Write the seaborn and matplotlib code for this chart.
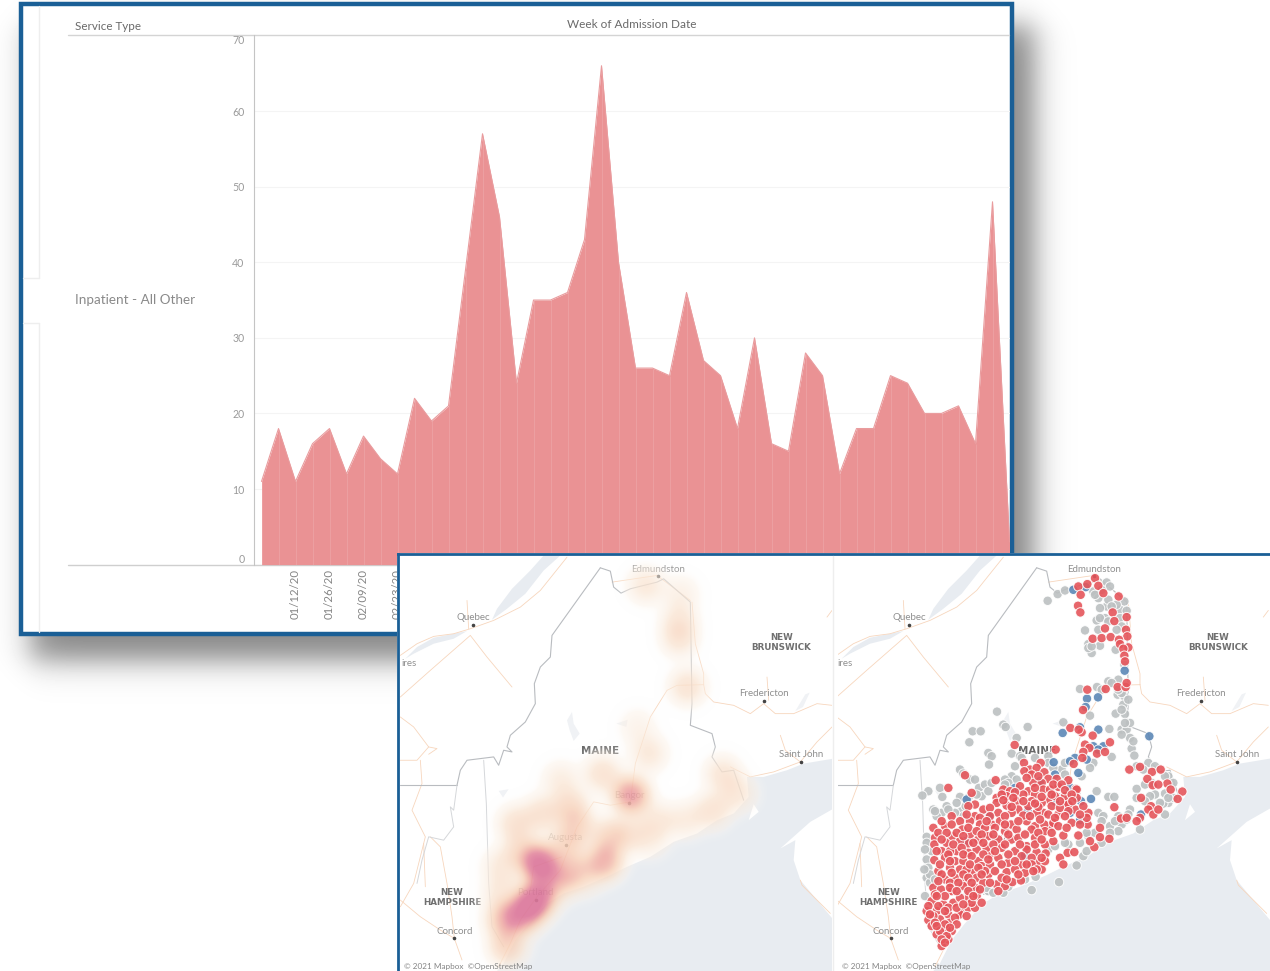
import numpy as np
import pandas as pd
import matplotlib
matplotlib.use('Agg')
import matplotlib.pyplot as plt
import matplotlib.dates as mdates
from matplotlib.colors import LinearSegmentedColormap
from matplotlib.patches import Rectangle, Polygon
import seaborn as sns

W, H = 1270, 971

# weekly admissions, first week starts 12/29/19
admissions = [11, 18, 11, 16, 18, 12, 17, 14, 12, 22, 19, 21, 39, 57, 46, 24, 35, 35, 36, 43, 66, 40, 26, 26, 25,
              36, 27, 25, 18, 30, 16, 15, 28, 25, 12, 18, 18, 25, 24, 20, 20, 21, 16, 48, 3]
y_ticks = [0, 10, 20, 30, 40, 50, 60, 70]

# map geometry, in units of 1/3 reference pixel
coast = [(300, 1263), (320, 1240), (355, 1170), (395, 1120), (450, 1060), (500, 1030), (560, 1010), (640, 975),
         (690, 950), (760, 920), (830, 875), (900, 850), (960, 810), (1010, 790), (1055, 740), (1050, 680),
         (1100, 680), (1170, 660), (1220, 640), (1310, 625), (1310, 1263)]
nova_scotia = [(1310, 775), (1240, 815), (1150, 895), (1195, 870), (1190, 930), (1210, 990), (1260, 1050),
               (1310, 1110)]
river_north = [(490, 15), (440, 60), (385, 130), (330, 175), (285, 208), (300, 175), (345, 115), (400, 60), (440, 15)]
river_south = [(25, 325), (60, 290), (110, 262), (210, 242), (170, 265), (110, 280), (50, 310)]
lakes = [[(510, 510), (525, 485), (530, 520), (548, 550), (530, 572), (518, 540)],
         [(1195, 482), (1225, 432), (1238, 427), (1218, 470)],
         [(658, 520), (692, 508), (688, 530)],
         [(305, 722), (335, 717), (318, 742)]]
islands = [[(1055, 810), (1070, 762), (1085, 785)]]
borders = [[(610, 52), (640, 62), (650, 110), (672, 128), (700, 115), (780, 95), (800, 85), (880, 155), (885, 460),
            (880, 525), (945, 550), (955, 590), (945, 620), (975, 665), (1010, 660), (1040, 750)],
           [(610, 52), (465, 255), (460, 320), (430, 350), (412, 400), (415, 460), (385, 515), (340, 555), (330, 590),
            (345, 605), (320, 600), (305, 645), (290, 620), (250, 625), (210, 630), (190, 660), (180, 705)],
           [(10, 705), (180, 705)]]
thin_borders = [[(260, 630), (268, 760), (275, 1000), (285, 1130), (320, 1190)],
                [(180, 705), (170, 780), (160, 770), (170, 830), (140, 870), (95, 860), (75, 930), (60, 1000)]]
roads = [[(10, 315), (60, 280), (110, 258), (170, 250), (220, 235), (290, 210), (370, 170), (430, 120), (510, 20)],
         [(10, 440), (100, 360), (220, 255), (270, 320), (345, 410)],
         [(210, 150), (215, 235)],
         [(305, 1250), (340, 1180), (370, 1110), (420, 1040), (490, 960), (540, 830), (590, 755), (640, 765),
          (700, 755), (715, 640), (760, 500), (810, 420), (840, 405), (920, 403)],
         [(920, 403), (925, 430), (950, 455), (1010, 465), (1060, 490), (1100, 460), (1135, 490), (1190, 490),
          (1260, 460), (1305, 465)],
         [(885, 155), (895, 280), (920, 370), (920, 403)],
         [(1110, 380), (1115, 450)],
         [(1000, 650), (1060, 680), (1130, 665), (1210, 635), (1260, 575), (1305, 530)],
         [(1150, 555), (1165, 600), (1210, 635)],
         [(10, 500), (50, 530), (95, 590), (60, 630), (10, 630)],
         [(70, 630), (75, 700), (45, 780), (85, 860), (50, 1000), (10, 1070)],
         [(95, 590), (120, 595), (95, 612)],
         [(100, 860), (130, 890), (150, 1000), (165, 1100), (172, 1165), (195, 1230)],
         [(10, 1050), (70, 1100), (130, 1140), (172, 1165)],
         [(80, 880), (85, 1010)],
         [(645, 95), (780, 75), (880, 150)],
         [(400, 1020), (410, 950), (495, 920)],
         [(1305, 180), (1290, 200)],
         [(1210, 990), (1215, 1005), (1260, 1050), (1300, 1090)]]
city_names = ['Quebec', 'Edmundston', 'Fredericton', 'Saint John', 'Bangor', 'Augusta', 'Portland', 'Concord']
city_x = [228, 783, 1102, 1212, 696, 506, 416, 172]
city_y = [224, 78, 453, 634, 757, 885, 1050, 1165]

# density hot spots: x, y, weight
hot_spots = [(745, 105, .55), (850, 130, .35), (845, 210, .5), (845, 265, .6), (870, 410, .7), (720, 530, .3),
             (755, 610, .55), (615, 670, .7), (490, 690, .45), (975, 670, .6), (1020, 730, .55), (945, 780, .65),
             (865, 810, .45), (780, 810, .5), (700, 850, .5), (760, 870, .35), (700, 735, 1.9), (520, 770, .8),
             (435, 790, .7), (355, 820, .7), (540, 830, .8), (425, 938, 2.3), (620, 935, 1.5), (640, 860, .9),
             (505, 885, .8), (370, 900, .7), (310, 950, .5), (440, 980, .7), (520, 960, .8), (480, 1000, .8),
             (415, 1050, 2.5), (375, 1095, 1.8), (320, 1110, 1.2), (330, 1190, 1.0), (560, 980, .5), (310, 1030, .5)]

# facility dots on the right map
red_dots = [(780, 85), (730, 110), (757, 103), (790, 108), (805, 130), (737, 135), (851, 140), (729, 168), (736, 188),
            (875, 202), (833, 188), (838, 214), (873, 240), (810, 236), (877, 260), (773, 267), (800, 265), (827, 262),
            (852, 270), (855, 283), (880, 293), (865, 297), (868, 318), (870, 335), (757, 420), (812, 418), (848, 412),
            (872, 412), (875, 400), (744, 481), (706, 535), (740, 548), (731, 540), (773, 558), (825, 578), (750, 585),
            (763, 595), (745, 607), (786, 612), (810, 607), (716, 643), (742, 625), (539, 586), (662, 600), (883, 660),
            (915, 652), (951, 667), (977, 660), (937, 688), (997, 702), (953, 707), (970, 705), (1007, 720), (1042, 726),
            (1028, 748), (918, 745), (838, 773), (948, 770), (940, 780), (955, 795), (970, 780), (915, 805), (905, 815),
            (858, 807), (875, 805), (390, 677), (482, 692), (340, 715), (675, 925), (698, 910), (718, 908), (685, 945),
            (778, 893), (765, 875), (795, 863), (823, 868), (730, 858), (685, 858), (758, 825), (795, 835), (760, 790),
            (755, 805), (720, 780), (722, 718), (695, 760), (670, 795), (710, 820), (650, 830),
            (567, 640), (617, 640), (585, 660), (605, 655), (568, 665), (628, 668), (590, 675), (640, 688), (665, 688),
            (595, 700), (555, 710), (620, 700), (700, 692), (505, 720), (525, 725), (580, 725), (625, 720), (670, 712),
            (645, 720), (725, 720), (485, 745), (515, 740), (565, 735), (600, 735), (640, 750), (690, 740), (660, 740),
            (545, 755), (590, 755), (620, 760), (700, 765), (725, 745), (410, 730), (420, 765), (445, 780), (485, 760),
            (515, 768), (550, 780), (580, 770), (625, 790), (650, 770), (675, 775), (420, 800), (435, 805), (490, 790),
            (530, 790), (605, 790), (640, 795), (350, 800), (375, 815), (405, 815), (435, 825), (470, 825), (495, 815),
            (528, 825), (575, 815), (600, 830), (628, 825), (655, 820), (330, 830), (295, 835), (382, 840), (405, 855),
            (450, 835), (480, 835), (510, 845), (545, 840), (590, 840), (630, 845), (300, 865), (335, 880), (400, 882),
            (430, 870), (460, 860), (490, 870), (530, 870), (575, 890), (630, 885), (655, 875), (352, 860), (375, 875),
            (550, 865), (600, 865), (320, 905), (365, 905), (400, 910), (425, 900), (465, 915), (500, 895), (540, 905),
            (575, 900), (605, 908), (632, 912), (298, 932), (330, 925), (360, 935), (385, 935), (430, 935), (490, 925),
            (520, 940), (560, 945), (610, 940), (590, 925), (455, 895), (310, 965), (345, 955), (375, 960), (410, 965),
            (440, 950), (465, 945), (515, 968), (540, 960), (570, 970), (590, 945), (620, 960), (630, 935), (330, 990),
            (360, 985), (390, 995), (425, 985), (460, 975), (485, 1005), (510, 1010), (532, 998), (558, 993), (295, 1015),
            (318, 1020), (350, 1025), (385, 1010), (420, 1015), (490, 1025), (290, 1055), (325, 1065), (355, 1060),
            (400, 1045), (375, 1045), (425, 1040), (275, 1085), (305, 1085), (340, 1095), (378, 1090), (400, 1075),
            (420, 1075), (280, 1112), (315, 1110), (345, 1120), (375, 1095), (290, 1130), (350, 1145), (320, 1190),
            (340, 1170), (305, 1155), (335, 1140), (298, 885), (345, 905), (445, 1000), (450, 965), (395, 960)]
red_dots_dense = [(575, 685), (610, 680), (655, 705), (680, 705), (540, 728), (600, 715), (650, 735), (690, 722),
                  (710, 735), (500, 735), (535, 745), (620, 742), (712, 755), (505, 752), (565, 755), (610, 772),
                  (675, 755), (745, 770), (400, 770), (465, 775), (530, 772), (600, 762), (700, 785), (735, 795),
                  (395, 795), (465, 800), (510, 800), (565, 798), (585, 800), (660, 805), (690, 800), (735, 825),
                  (320, 815), (350, 825), (400, 835), (425, 845), (455, 815), (510, 825), (550, 815), (615, 810),
                  (670, 830), (695, 835), (310, 850), (335, 850), (365, 850), (385, 860), (440, 855), (475, 855),
                  (520, 855), (570, 855), (610, 850), (650, 850), (320, 870), (355, 885), (380, 895), (415, 880),
                  (445, 880), (475, 885), (510, 885), (555, 885), (600, 885), (620, 870), (305, 905), (340, 915),
                  (385, 915), (410, 920), (445, 915), (480, 905), (520, 915), (560, 920), (620, 925), (315, 945),
                  (345, 935), (405, 945), (430, 955), (460, 930), (500, 945), (540, 935), (575, 945), (605, 960),
                  (320, 975), (350, 970), (385, 975), (400, 985), (440, 975), (480, 965), (500, 985), (550, 975),
                  (595, 965), (310, 995), (345, 1000), (370, 1000), (410, 1000), (435, 1020), (465, 1000), (515, 990),
                  (300, 1035), (330, 1040), (345, 1015), (365, 1025), (400, 1025), (410, 1060), (305, 1040),
                  (280, 1070), (310, 1070), (340, 1075), (365, 1075), (385, 1065), (295, 1100), (330, 1085),
                  (360, 1105), (395, 1100), (300, 1120), (330, 1125), (365, 1125), (315, 1145), (335, 1160),
                  (345, 1135), (305, 1130), (320, 1170), (330, 1180), (285, 1095), (440, 1060), (415, 1040)]
gray_dots = [(638, 153), (668, 133), (690, 122), (815, 98), (825, 110), (775, 125), (790, 145), (815, 170), (795, 175),
             (868, 155), (855, 180), (875, 183), (785, 212), (810, 205), (855, 205), (750, 242), (760, 283), (770, 310),
             (760, 295), (795, 288), (842, 300), (868, 345), (735, 418), (786, 412), (820, 395), (848, 435), (868, 440),
             (865, 465), (870, 493), (842, 492), (765, 498), (685, 518), (823, 538), (860, 540), (875, 540), (885, 565),
             (890, 597), (898, 618), (830, 622), (775, 640), (765, 655), (486, 486), (505, 525), (512, 532), (578, 532),
             (413, 545), (437, 545), (403, 578), (545, 565), (530, 612), (460, 610), (470, 620), (462, 645), (375, 660),
             (385, 672), (405, 690), (420, 690), (315, 715), (280, 725), (262, 738), (322, 742), (375, 742), (432, 715),
             (450, 705), (530, 680), (545, 690), (555, 620), (640, 620), (680, 660), (690, 675), (740, 680), (785, 725),
             (820, 742), (838, 742), (905, 718), (905, 745), (960, 735), (990, 732), (1000, 760), (985, 762), (950, 700),
             (930, 705), (990, 795), (885, 780), (880, 795), (860, 825), (850, 845), (915, 840), (825, 830), (790, 790),
             (805, 800), (725, 948), (672, 998), (590, 1022), (602, 982), (320, 790), (305, 800), (275, 862), (295, 780),
             (380, 785), (392, 770), (275, 930), (280, 955), (275, 985), (285, 1000), (270, 1040), (460, 1025), (440, 1020),
             (520, 1012), (745, 920), (755, 905), (800, 880), (700, 885), (690, 880), (275, 880), (290, 905), (270, 900),
             (285, 975), (300, 990), (268, 960), (300, 785), (335, 770), (365, 760), (385, 800), (360, 790), (440, 740),
             (460, 725), (470, 700), (510, 690), (520, 700), (540, 650), (560, 625), (600, 625), (640, 640), (655, 655),
             (690, 640), (800, 120), (780, 135), (845, 165), (820, 150), (795, 205), (830, 170), (860, 230), (845, 240),
             (790, 240), (820, 215), (770, 290), (850, 390), (830, 400), (800, 420), (860, 430), (850, 420), (880, 450),
             (860, 480), (885, 520), (870, 520), (860, 555), (895, 575), (940, 640), (925, 660), (905, 650), (960, 650),
             (1000, 680), (1015, 700), (990, 680), (1015, 745), (1000, 745), (975, 760), (945, 740), (930, 755), (875, 810),
             (850, 800), (840, 815), (455, 1015), (475, 1030), (505, 1030), (570, 990), (640, 900), (660, 890), (760, 860),
             (780, 850), (800, 815), (825, 850), (735, 880), (755, 850), (340, 780), (400, 745), (425, 735), (510, 705)]
blue_dots = [(715, 120), (752, 112), (869, 363), (756, 447), (789, 443), (752, 472), (683, 550), (790, 540), (735, 533),
             (943, 560), (775, 590), (805, 590), (790, 600), (720, 625), (705, 635), (755, 630), (656, 638), (730, 670),
             (660, 675), (615, 695), (703, 712), (540, 715), (768, 748), (738, 755), (660, 755), (395, 750), (578, 785),
             (462, 800), (735, 812), (918, 795), (390, 875), (570, 918), (705, 790)]

HEAT_COLORS = [(0, (1, 1, 1, 0)), (.05, (.99, .95, .91, .5)), (.2, (.98, .90, .83, .85)), (.4, (.97, .82, .73, .92)),
               (.6, (.94, .68, .65, .95)), (.8, (.89, .53, .62, .97)), (1, (.86, .47, .61, 1))]


def px_axes(fig, left, top, right, bottom, **kw):
    # axes placed by reference pixels
    return fig.add_axes([left / W, 1 - bottom / H, (right - left) / W, (bottom - top) / H], **kw)


def draw_background(ax):
    ax.set_xlim(0, W)
    ax.set_ylim(H, 0)
    ax.axis('off')
    xx, yy = np.meshgrid(np.arange(W), np.arange(H))
    soft = 18
    shade = (0.5 * (np.tanh((xx - 30) / soft) - np.tanh((xx - 1034) / soft))
             * 0.5 * (np.tanh((yy - 25) / soft) - np.tanh((yy - 660) / soft)))
    ax.imshow(1 - 0.47 * shade, cmap='gray', vmin=0, vmax=1, extent=(0, W, H, 0), aspect='auto', zorder=0)
    ax.add_patch(Rectangle((21, 4), 991, 630, fc='white', ec='#1a5f96', lw=3.2, zorder=1))
    ax.plot([39, 39], [6, 278], color='#eeeeee', lw=1, zorder=2)
    ax.plot([39, 39], [323, 632], color='#eeeeee', lw=1, zorder=2)
    ax.plot([23, 39], [278, 278], color='#eeeeee', lw=1, zorder=2)
    ax.plot([23, 39], [323, 323], color='#eeeeee', lw=1, zorder=2)
    ax.plot([68, 1009], [35, 35], color='#d4d4d4', lw=1, zorder=2)
    ax.plot([68, 1009], [565.5, 565.5], color='#cfcfcf', lw=1, zorder=2)
    ax.text(75, 26, 'Service Type', color='#6a6a6a', fontsize=8.4, va='center', zorder=3)
    ax.text(632, 25, 'Week of Admission Date', color='#6a6a6a', fontsize=8.5, va='center', ha='center', zorder=3)
    ax.text(75, 300, 'Inpatient - All Other', color='#8a8a8a', fontsize=9.7, va='center', zorder=3)


def draw_chart(ax):
    weeks = pd.date_range('2019-12-29', periods=len(admissions), freq='7D')
    df = pd.DataFrame({'week': weeks, 'admissions': admissions})
    ax.fill_between(df['week'], df['admissions'], color='#ea9294', lw=0, zorder=2)
    ax.vlines(df['week'], 0, df['admissions'], color='white', lw=0.8, alpha=0.12, zorder=3)
    sns.lineplot(data=df, x='week', y='admissions', color='#e99c9e', lw=0.8, ax=ax, zorder=4)
    day = pd.Timedelta(days=1) * 7 / 17
    ax.set_xlim(weeks[0] - 7.5 * day, weeks[0] + 748 * day)
    ax.set_ylim(0, 70)
    ax.set_yticks(y_ticks)
    ax.grid(axis='y', color='#f4f4f4', lw=0.8)
    ax.get_ygridlines()[-1].set_visible(False)
    ax.set_axisbelow(True)
    ax.set_xticks(weeks[2:9:2])
    ax.xaxis.set_major_formatter(mdates.DateFormatter('%m/%d/%y'))
    ax.tick_params(axis='x', length=0, labelrotation=90, labelsize=8.2, labelcolor='#858585', pad=3)
    ax.tick_params(axis='y', length=0, labelsize=7.6, labelcolor='#9a9a9a', pad=7)
    ax.get_yticklabels()[0].set_va('bottom')
    ax.get_yticklabels()[-1].set_va('top')
    ax.set_xlabel('')
    ax.set_ylabel('')
    sns.despine(ax=ax, top=True, right=True, bottom=True)
    ax.spines['left'].set_color('#c4c4c4')
    ax.spines['left'].set_linewidth(0.8)
    ax.patch.set_alpha(0)


def draw_map(ax, xlim):
    ax.set_xlim(*xlim)
    ax.set_ylim(1263, 15)
    ax.axis('off')
    ax.add_patch(Rectangle((0, 0), 1400, 1300, fc='white', ec='none', zorder=0))
    water = '#e8ecf1'
    ax.add_patch(Polygon(coast, fc=water, ec='none', zorder=1))
    ax.add_patch(Polygon(nova_scotia, fc='white', ec='none', zorder=1))
    for shape in [river_north, river_south]:
        ax.add_patch(Polygon(shape, fc=water, ec='none', zorder=1))
    for shape in lakes:
        ax.add_patch(Polygon(shape, fc='#f0f2f5', ec='none', zorder=1))
    for shape in islands:
        ax.add_patch(Polygon(shape, fc='white', ec='none', zorder=1))
    for line in roads:
        ax.plot(*zip(*line), color='#f7d6bd', lw=0.6, zorder=2)
    for line in borders:
        ax.plot(*zip(*line), color='#b9bcc0', lw=0.8, zorder=3)
    for line in thin_borders:
        ax.plot(*zip(*line), color='#d5d7da', lw=0.7, zorder=3)
    ax.scatter(city_x, city_y, s=2.5, color='#444444', zorder=4)
    for name, x, y in zip(city_names, city_x, city_y):
        ax.text(x, y - 22, name, color='#8f8f8f', fontsize=7, ha='center', va='center', zorder=4)
    ax.text(35, 338, 'ires', color='#8f8f8f', fontsize=7, ha='center', va='center', zorder=4)
    for label, x, y in [('NEW\nBRUNSWICK', 1153, 277), ('NEW\nHAMPSHIRE', 165, 1043)]:
        ax.text(x, y, label, color='#707070', fontsize=6.3, fontweight='bold', family='DejaVu Sans', ha='center',
                va='center', linespacing=1.15, zorder=4)
    ax.text(610, 602, 'MAINE', color='#666666', fontsize=7.5, fontweight='bold', family='DejaVu Sans', ha='center',
            va='center', zorder=4)
    ax.text(xlim[0] + 11, 1248, '© 2021 Mapbox  ©OpenStreetMap', color='#858585', fontsize=5.9, va='center', zorder=9)


def draw_heat(ax):
    gx, gy = np.meshgrid(np.arange(0, 1320, 3), np.arange(0, 1270, 3))
    density = np.zeros_like(gx, dtype=float)
    for x, y, weight in hot_spots:
        r = np.sqrt((gx - x) ** 2 + (gy - y) ** 2)
        density += weight * np.exp(-(r / 54.0) ** 2.3)
    cmap = LinearSegmentedColormap.from_list('heat', HEAT_COLORS)
    ax.imshow(density, cmap=cmap, vmin=0, vmax=2.8, extent=(0, 1320, 1270, 0), aspect='auto', zorder=5,
              interpolation='bilinear', alpha=0.92)
    ax.set_xlim(9, 1305)
    ax.set_ylim(1263, 15)


def draw_dots(ax):
    groups = [('gray', gray_dots), ('blue', blue_dots), ('red', red_dots + red_dots_dense)]
    rows = [(x + 5, y - 2, name) for name, dots in groups for x, y in dots]
    df = pd.DataFrame(rows, columns=['x', 'y', 'group'])
    sns.scatterplot(data=df, x='x', y='y', hue='group', hue_order=['gray', 'blue', 'red'],
                    palette={'gray': '#bcc0c1', 'blue': '#5c87b6', 'red': '#e5555b'}, s=46, alpha=0.9,
                    edgecolor='white', linewidth=0.7, legend=False, ax=ax, zorder=6)
    ax.set_xlim(14, 1310)
    ax.set_ylim(1263, 15)
    ax.axis('off')


sns.set_theme(style='white')
plt.rcParams['font.family'] = ['Lato', 'DejaVu Sans']

fig = plt.figure(figsize=(12.7, 9.71), dpi=100, facecolor='white')

bg_ax = px_axes(fig, 0, 0, W, H, zorder=0)
draw_background(bg_ax)

chart_ax = px_axes(fig, 254, 35.5, 1009.5, 564.6, zorder=1)
draw_chart(chart_ax)

frame_ax = px_axes(fig, 397, 553, W, H, zorder=2)
frame_ax.set_xlim(397, W)
frame_ax.set_ylim(H, 553)
frame_ax.axis('off')
frame_ax.add_patch(Rectangle((397, 553), W - 397, H - 553, fc='white', ec='none'))
frame_ax.plot([398.2, 398.2], [553, H], color='#1a5f96', lw=2)
frame_ax.plot([397, W], [554.2, 554.2], color='#1a5f96', lw=2)
frame_ax.plot([833, 833], [556, H], color='#eeeeee', lw=1)

left_map = px_axes(fig, 400, 555.5, 832, H, zorder=3)
draw_map(left_map, (9, 1305))
draw_heat(left_map)

right_map = px_axes(fig, 838, 555.5, 1270, H, zorder=3)
draw_map(right_map, (14, 1310))
draw_dots(right_map)

fig.savefig('out.png', dpi=100)
